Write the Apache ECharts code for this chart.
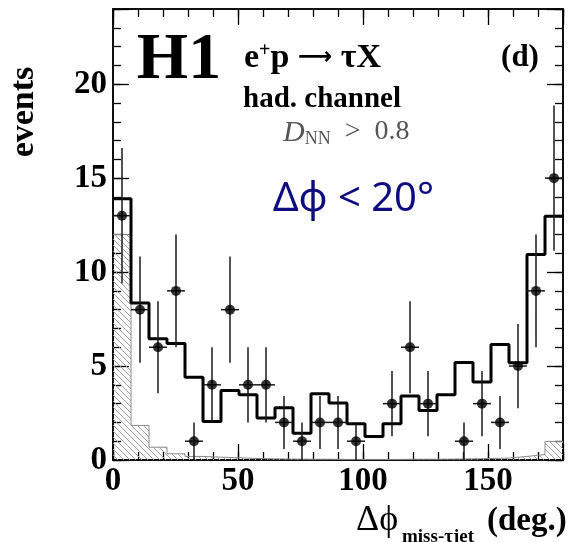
<!DOCTYPE html>
<html>
<head>
<meta charset="utf-8">
<script src="https://cdn.jsdelivr.net/npm/echarts@6/dist/echarts.min.js"></script>
<style>
  html, body { margin: 0; padding: 0; background: #fff; }
  #chart { width: 570px; height: 542px; }
</style>
</head>
<body>
<div id="chart"></div>
<script>
// Bin edges of the azimuthal-difference histogram (degrees), 25 bins of 7.2 deg
const binEdges = [0, 7.2, 14.4, 21.6, 28.8, 36, 43.2, 50.4, 57.6, 64.8, 72, 79.2, 86.4,
  93.6, 100.8, 108, 115.2, 122.4, 129.6, 136.8, 144, 151.2, 158.4, 165.6, 172.8, 180];

// Observed events per bin and their statistical errors
const dataEvents = [13, 8, 6, 9, 1, 4, 8, 4, 4, 2, 1, 2, 2, 1, 0, 3, 6, 3, 0, 1, 3, 2, 5, 9, 15];
const dataErrors = [3.6, 2.83, 2.45, 3.0, 1.0, 2.0, 2.83, 2.0, 2.0, 1.41, 1.0, 1.41, 1.41, 1.0, 0,
  1.73, 2.45, 1.73, 0, 1.0, 1.73, 1.41, 2.24, 3.0, 3.87];

// Total expectation (open histogram)
const mcTotal = [13.9, 8.35, 6.45, 6.2, 4.4, 2.05, 3.7, 3.47, 2.23, 2.78, 1.43, 3.53, 3.03,
  1.93, 1.25, 1.93, 3.4, 2.64, 3.47, 5.19, 4.15, 6.14, 5.18, 10.93, 12.97];

// Signal-like component (hatched histogram)
const mcHatched = [12.0, 1.84, 0.68, 0.33, 0.19, 0.15, 0.12, 0.08, 0.06, 0.05, 0.04, 0.04, 0.03,
  0.03, 0.03, 0.03, 0.04, 0.04, 0.05, 0.06, 0.08, 0.1, 0.19, 0.29, 0.99];

// Axis ranges and tick steps
const xRange = [0, 180];
const yRange = [0, 24];
const xMajor = 50, xMinor = 10;
const yMajor = 5, yMinor = 1;

// Step-line points: one point at every lower bin edge plus the closing edge
function stepPoints(values) {
  const pts = values.map((v, i) => [binEdges[i], v]);
  pts.push([binEdges[binEdges.length - 1], values[values.length - 1]]);
  return pts;
}

// Diagonal hatch tile
function hatchPattern() {
  const c = document.createElement('canvas');
  c.width = 6; c.height = 6;
  const g = c.getContext('2d');
  g.strokeStyle = '#a0a0a0';
  g.lineWidth = 1;
  g.beginPath();
  g.moveTo(-1, -1); g.lineTo(7, 7);
  g.moveTo(-1, 5); g.lineTo(1, 7);
  g.moveTo(5, -1); g.lineTo(7, 1);
  g.stroke();
  return c;
}

const points = [];
dataEvents.forEach((n, i) => {
  if (n > 0) {
    const lo = binEdges[i], hi = binEdges[i + 1];
    points.push([(lo + hi) / 2, n, dataErrors[i], (hi - lo) / 2]);
  }
});

const serif = 'Liberation Serif';
const labelFont = { fontFamily: serif, fontWeight: 'bold', fontSize: 33, color: '#000' };

function xAxisDef(position, step, tickLen, showLabels) {
  return {
    type: 'value', position: position, min: xRange[0], max: xRange[1], interval: step,
    axisLine: { show: true, onZero: false, lineStyle: { color: '#000', width: 1.5 } },
    axisTick: { show: true, inside: true, length: tickLen, lineStyle: { color: '#000', width: 1.3 } },
    axisLabel: showLabels ? Object.assign({ show: true, margin: 5,
      formatter: v => (v % xMajor === 0 ? String(v) : '') }, labelFont) : { show: false },
    splitLine: { show: false }
  };
}
function yAxisDef(position, step, tickLen, showLabels) {
  return {
    type: 'value', position: position, min: yRange[0], max: yRange[1], interval: step,
    axisLine: { show: true, onZero: false, lineStyle: { color: '#000', width: 1.5 } },
    axisTick: { show: true, inside: true, length: tickLen, lineStyle: { color: '#000', width: 1.3 } },
    axisLabel: showLabels ? Object.assign({ show: true, margin: 6,
      formatter: v => (v % yMajor === 0 ? String(v) : '') }, labelFont) : { show: false },
    splitLine: { show: false }
  };
}

const chart = echarts.init(document.getElementById('chart'), null, { renderer: 'canvas' });

chart.setOption({
  animation: false,
  backgroundColor: '#fff',
  grid: { left: 113, top: 9, width: 450, height: 451, containLabel: false },
  xAxis: [
    xAxisDef('bottom', xMajor, 16, true),
    xAxisDef('bottom', xMinor, 8, false),
    xAxisDef('top', xMajor, 16, false),
    xAxisDef('top', xMinor, 8, false)
  ],
  yAxis: [
    yAxisDef('left', yMajor, 16, true),
    yAxisDef('left', yMinor, 8, false),
    yAxisDef('right', yMajor, 16, false),
    yAxisDef('right', yMinor, 8, false)
  ],
  series: [
    {
      type: 'line', name: 'hatched', step: 'end', symbol: 'none',
      xAxisIndex: 0, yAxisIndex: 0,
      data: stepPoints(mcHatched),
      lineStyle: { color: '#8a8a8a', width: 1 },
      areaStyle: { color: { image: hatchPattern(), repeat: 'repeat' }, opacity: 1 },
      z: 1
    },
    {
      type: 'line', name: 'expectation', step: 'end', symbol: 'none',
      xAxisIndex: 0, yAxisIndex: 0,
      data: stepPoints(mcTotal),
      lineStyle: { color: '#000', width: 3 },
      z: 2
    },
    {
      type: 'custom', name: 'errors', xAxisIndex: 0, yAxisIndex: 0,
      data: points,
      renderItem: function (params, api) {
        const x = api.value(0), y = api.value(1), e = api.value(2), hw = api.value(3);
        const a = api.coord([x, Math.max(y - e, yRange[0])]);
        const b = api.coord([x, y + e]);
        const l = api.coord([x - hw, y]);
        const r = api.coord([x + hw, y]);
        const st = { stroke: '#1a1a1a', lineWidth: 1.5 };
        return {
          type: 'group',
          children: [
            { type: 'line', shape: { x1: a[0], y1: a[1], x2: b[0], y2: b[1] }, style: st },
            { type: 'line', shape: { x1: l[0], y1: l[1], x2: r[0], y2: r[1] }, style: st }
          ]
        };
      },
      z: 3
    },
    {
      type: 'scatter', name: 'data', xAxisIndex: 0, yAxisIndex: 0,
      data: points.map(p => [p[0], p[1]]),
      symbol: 'circle', symbolSize: 10,
      itemStyle: { color: '#000' },
      z: 4
    }
  ],
  graphic: [
    { type: 'text', x: 179, y: 61, style: { text: 'H1', font: 'bold 66px "Liberation Serif"',
      fill: '#000', textAlign: 'center', textVerticalAlign: 'middle' } },
    { type: 'text', x: 244, y: 58, style: {
      text: '{n|e}{s|+}{n|p }{a|\u27f6}{n| \u03c4X}', textVerticalAlign: 'middle',
      rich: {
        n: { font: 'bold 34px "Liberation Serif"', fill: '#000', verticalAlign: 'bottom' },
        s: { font: 'bold 20px "Liberation Serif"', fill: '#000', verticalAlign: 'top' },
        a: { font: 'bold 24px "DejaVu Sans"', fill: '#000', verticalAlign: 'middle' }
      } } },
    { type: 'text', x: 520, y: 58, style: { text: '(d)', font: 'bold 31px "Liberation Serif"',
      fill: '#000', textAlign: 'center', textVerticalAlign: 'middle' } },
    { type: 'text', x: 322, y: 100, style: { text: 'had. channel', font: 'bold 29px "Liberation Serif"',
      fill: '#000', textAlign: 'center', textVerticalAlign: 'middle' } },
    { type: 'text', x: 283, y: 133, style: {
      text: '{d|D}{s|NN}{g|  >  0.8}', textVerticalAlign: 'middle',
      rich: {
        d: { font: 'italic 30px "Liberation Serif"', fill: '#555', verticalAlign: 'top' },
        s: { font: '18px "Liberation Serif"', fill: '#555', verticalAlign: 'bottom' },
        g: { font: '28px "Liberation Serif"', fill: '#555', verticalAlign: 'top' }
      } } },
    { type: 'text', x: 273, y: 200, style: { text: '\u0394\u03c6 < 20\u00b0',
      font: '40px "Noto Sans"', fill: '#0c0c80', textVerticalAlign: 'middle' } },
    { type: 'text', x: 24, y: 112, rotation: Math.PI / 2, style: { text: 'events',
      font: 'bold 34px "Liberation Serif"', fill: '#000', textAlign: 'center', textVerticalAlign: 'middle' } },
    { type: 'text', x: 356, y: 521, style: { text: '\u0394\u03d5',
      font: '36px "Liberation Serif"', fill: '#000', textVerticalAlign: 'middle' } },
    { type: 'text', x: 402, y: 537, style: { text: 'miss-\u03c4jet',
      font: 'bold 19px "Liberation Serif"', fill: '#000', textVerticalAlign: 'middle' } },
    { type: 'text', x: 487, y: 521, style: { text: '(deg.)',
      font: 'bold 33px "Liberation Serif"', fill: '#000', textVerticalAlign: 'middle' } }
  ]
});
</script>
</body>
</html>
